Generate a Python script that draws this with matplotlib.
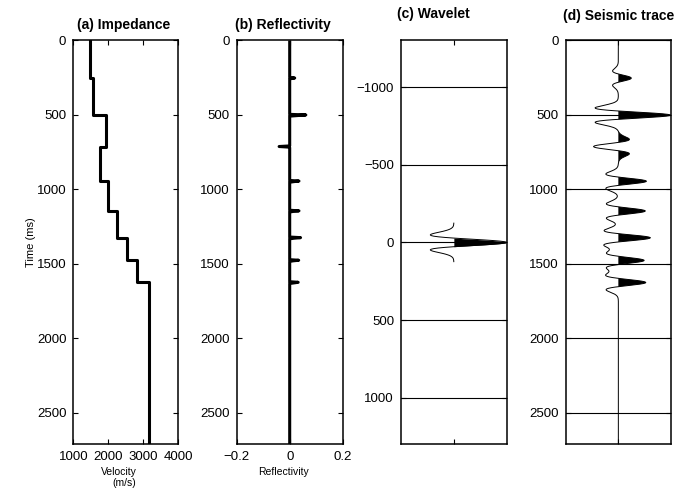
import numpy as np
import matplotlib
matplotlib.use('Agg')
import matplotlib.pyplot as plt

plt.rcParams['font.family'] = ['Liberation Sans', 'DejaVu Sans']

dt = 4
t_max = 2712

# layer interfaces (ms) and interval velocities (m/s)
interface_times = [252, 500, 712, 944, 1144, 1324, 1476, 1624]
layer_velocity = [1480, 1555, 1935, 1765, 1990, 2240, 2545, 2810, 3150]

# reflection coefficients: first and second sample of each spike
refl_main = [0.019, 0.061, -0.040, 0.035, 0.035, 0.041, 0.034, 0.032]
refl_tail = [0.004, 0.032, -0.004, 0.015, 0.013, 0.016, 0.012, 0.017]

# wavelet amplitude, t = 0, 4, ..., 124 ms (symmetric)
wavelet_half = [1.0, 0.969, 0.880, 0.741, 0.566, 0.372, 0.175, -0.009,
                -0.168, -0.293, -0.380, -0.430, -0.446, -0.434, -0.402, -0.356,
                -0.303, -0.250, -0.199, -0.154, -0.116, -0.084, -0.060, -0.042,
                -0.028, -0.018, -0.012, -0.007, -0.005, -0.003, -0.002, -0.001]

time = np.arange(0, t_max + dt, dt)
refl = np.zeros(len(time))
for ti, r0, r1 in zip(interface_times, refl_main, refl_tail):
    i = ti // dt
    refl[i] = r0
    refl[i + 1] = r1

wavelet = np.array(wavelet_half[:0:-1] + wavelet_half)
wavelet_t = np.arange(-(len(wavelet_half) - 1), len(wavelet_half)) * dt
trace = np.convolve(refl, wavelet, mode='same')

tops = [0] + interface_times
bots = interface_times + [t_max]
imp_t = np.column_stack([tops, bots]).ravel()
imp_v = np.repeat(layer_velocity, 2)

fig = plt.figure(figsize=(6.88, 4.91), dpi=100)
W, H = 688.0, 491.0
top_px, bot_px = 40.5, 444.3


def make_ax(left_px, right_px):
    ax = fig.add_axes([left_px / W, 1 - bot_px / H, (right_px - left_px) / W,
                       (bot_px - top_px) / H])
    ax.tick_params(direction='in', top=True, right=True, length=3.5, width=0.8,
                   labelsize=9.5, pad=5)
    for s in ax.spines.values():
        s.set_linewidth(1.1)
    return ax


# (a) impedance
ax0 = make_ax(73.3, 178.3)
ax0.plot(imp_v, imp_t, color='k', lw=2.2)
ax0.set_xlim(1000, 4000)
ax0.set_ylim(t_max, 0)
ax0.set_xticks([1000, 2000, 3000, 4000])
ax0.set_yticks([0, 500, 1000, 1500, 2000, 2500])
ax0.set_title('(a) Impedance', fontsize=10, fontweight='bold', pad=8.5, x=0.48)
ax0.set_ylabel('Time (ms)', fontsize=8)
ax0.yaxis.set_label_coords(-0.36, 0.5)
ax0.set_xlabel('Velocity\n(m/s)', fontsize=7.5, multialignment='right')
ax0.xaxis.set_label_coords(0.43, -0.055)

# (b) reflectivity
ax1 = make_ax(236.7, 342.7)
ax1.plot(refl, time, color='k', lw=2.2, solid_capstyle='butt')
ax1.set_xlim(-0.2, 0.2)
ax1.set_ylim(t_max, 0)
ax1.set_xticks([-0.2, 0, 0.2])
ax1.set_xticklabels(['\u22120.2', '0', '0.2'])
ax1.set_yticks([0, 500, 1000, 1500, 2000, 2500])
ax1.set_title('(b) Reflectivity', fontsize=10, fontweight='bold', pad=8.5, x=0.44)
ax1.set_xlabel('Reflectivity', fontsize=7.5)
ax1.xaxis.set_label_coords(0.446, -0.055)

# (c) wavelet
ax2 = make_ax(401.0, 506.7)
ax2.set_axisbelow(True)
ax2.grid(axis='y', color='k', lw=0.8)
ax2.plot(wavelet, wavelet_t, color='k', lw=0.7)
ax2.fill_betweenx(wavelet_t, 0, wavelet, where=wavelet > 0, interpolate=True,
                  color='k', lw=0)
ax2.set_xlim(-1, 1)
ax2.set_ylim(1300, -1300)
ax2.set_xticks([0])
ax2.set_xticklabels([])
ax2.set_yticks([-1000, -500, 0, 500, 1000])
ax2.set_title('(c) Wavelet', fontsize=10, fontweight='bold', pad=16, x=0.31)

# (d) seismic trace
ax3 = make_ax(565.7, 671.0)
ax3.set_axisbelow(True)
ax3.grid(axis='y', color='k', lw=0.8)
ax3.plot(trace, time, color='k', lw=0.7)
ax3.fill_betweenx(time, 0, trace, where=trace > 0, interpolate=True,
                  color='k', lw=0)
ax3.set_xlim(-0.093, 0.093)
ax3.set_ylim(t_max, 0)
ax3.set_xticks([0])
ax3.set_xticklabels([])
ax3.set_yticks([0, 500, 1000, 1500, 2000, 2500])
ax3.set_title('(d) Seismic trace', fontsize=10, fontweight='bold', pad=15)

fig.savefig('out.png', dpi=100)
